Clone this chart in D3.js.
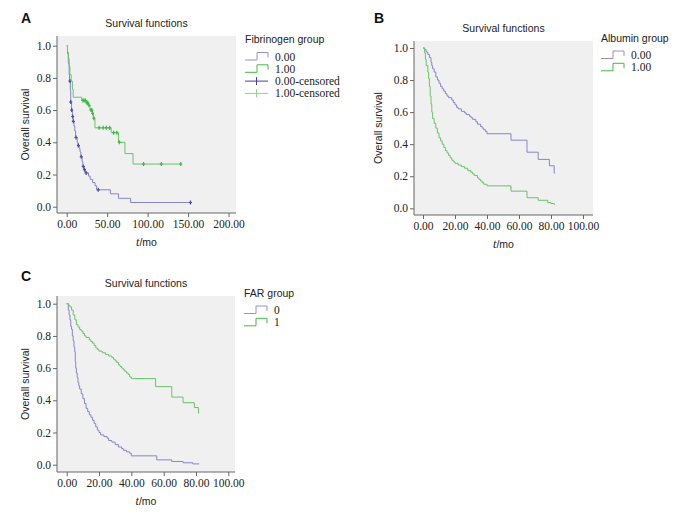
<!DOCTYPE html>
<html><head><meta charset="utf-8">
<script src="https://cdn.jsdelivr.net/npm/d3@7"></script>
<style>
html,body{margin:0;padding:0;background:#fff;}
svg{display:block;}
</style>
</head><body>
<svg id="c" width="686" height="517"></svg>
<script>
// ---------- DATA ----------
// Panel A: Fibrinogen group, [time (mo), survival after step]
const fibGroup0 = [[0,1],[1,0.95],[2,0.89],[3,0.82],[3.5,0.78],[4.5,0.72],[5,0.65],[6,0.60],[7,0.56],[8,0.53],[9,0.50],[10,0.47],[11,0.43],[13,0.40],[14,0.38],[15.5,0.36],[16.5,0.34],[17.5,0.31],[19,0.28],[20,0.25],[21.5,0.23],[23,0.21],[27,0.19],[29,0.17],[32,0.15],[35,0.13],[37,0.105],[54,0.08],[64,0.052],[79,0.026],[153,0.026]];
const fibGroup0Censored = [4,5,6.2,7.4,8.2,11.5,14.4,18,20.5,22,24,39,153];
const fibGroup1 = [[0,1],[1,0.96],[2,0.92],[3,0.87],[4,0.82],[5.5,0.78],[7,0.73],[8,0.68],[18.5,0.66],[24.5,0.645],[26.7,0.63],[28.8,0.60],[31.5,0.58],[33,0.55],[34.9,0.49],[55,0.46],[64,0.40],[72,0.33],[82,0.265],[141,0.265]];
const fibGroup1Censored = [20,21.5,23,25,26,27.5,30,31,32,33.5,40,45,49,53,58,62,65,95,117,141];
// Panel B: Albumin group
const albGroup0 = [[0,1],[1,0.99],[2,0.975],[3,0.96],[4,0.94],[5,0.91],[5.5,0.89],[6,0.87],[7,0.85],[8,0.82],[9,0.80],[10,0.78],[11,0.76],[12,0.745],[13,0.73],[14,0.715],[15,0.70],[16,0.69],[18,0.675],[19,0.66],[20,0.645],[21,0.63],[22,0.62],[24,0.605],[26,0.595],[27,0.585],[29,0.575],[30,0.565],[31,0.555],[33,0.54],[34,0.525],[36,0.51],[37,0.50],[38,0.49],[39,0.48],[40,0.465],[55,0.425],[65,0.35],[72,0.305],[79,0.265],[82,0.22],[82.5,0.22]];
const albGroup1 = [[0,1],[1,0.97],[1.5,0.93],[2,0.89],[3,0.85],[3.5,0.81],[4,0.76],[4.5,0.70],[5,0.65],[5.5,0.60],[6,0.56],[7,0.53],[8,0.50],[9,0.47],[10,0.44],[11,0.42],[12,0.40],[13,0.38],[14,0.36],[15,0.345],[16,0.33],[17,0.315],[18,0.30],[19,0.29],[20,0.28],[22,0.27],[24,0.26],[26,0.25],[28,0.235],[30,0.225],[31,0.215],[32,0.205],[34,0.19],[35,0.18],[36,0.17],[37,0.16],[38,0.15],[40,0.14],[55,0.107],[65,0.066],[72,0.05],[78,0.035],[80,0.03],[82,0.025],[82.5,0.025]];
// Panel C: FAR group
const farGroup0 = [[0,1],[1,0.96],[1.5,0.93],[2,0.90],[2.5,0.86],[3,0.84],[3.5,0.80],[4,0.77],[4.5,0.73],[5,0.70],[5.3,0.64],[5.6,0.60],[6,0.57],[6.5,0.54],[7,0.51],[7.5,0.49],[8,0.47],[9,0.44],[10,0.41],[11,0.38],[12,0.35],[13,0.33],[14,0.31],[15,0.295],[16,0.275],[17,0.255],[18,0.235],[19,0.215],[20,0.20],[21,0.185],[23,0.175],[25,0.165],[26,0.15],[28,0.14],[30,0.125],[32,0.11],[34,0.10],[35,0.09],[37,0.08],[39,0.07],[40,0.055],[55.7,0.03],[65,0.02],[72,0.012],[78,0.005],[82,0.005]];
const farGroup1 = [[0,1],[1,0.99],[2,0.98],[3,0.96],[4,0.93],[5,0.90],[6,0.87],[7,0.855],[8,0.84],[9,0.83],[10,0.815],[11,0.80],[12,0.79],[14,0.775],[15,0.765],[16,0.755],[17,0.74],[18,0.725],[19,0.715],[20,0.705],[22,0.695],[24,0.685],[26,0.675],[28,0.665],[29,0.655],[30,0.645],[31,0.635],[32,0.62],[33,0.61],[34,0.60],[35,0.59],[36,0.58],[37,0.57],[38,0.56],[39,0.545],[40,0.535],[55,0.485],[65,0.42],[72,0.385],[79,0.355],[81.5,0.32],[82,0.32]];
// Tick values
const yTicks = [0,0.2,0.4,0.6,0.8,1.0];
const xTicksA = [0,50,100,150,200];
const xTicksBC = [0,20,40,60,80,100];
const legendA = ["0.00","1.00","0.00-censored","1.00-censored"];
const legendB = ["0.00","1.00"];
const legendC = ["0","1"];

// ---------- STYLE ----------
const COL = {
  blue:"#8585cf", green:"#66c666",
  blueCens:"#4a48a6", greenCens:"#3fb83f",
  legBlue:"#9a8cd6", legGreen:"#45b845",
  legBlueCens:"#4b3c9b", legGreenCens:"#88d888",
  bg:"#f0f0f0", axis:"#666", text:"#222"
};
const SANS = "'Liberation Sans', Arial, sans-serif";
const SERIF = "'Liberation Serif', 'Times New Roman', serif";

const svg = d3.select("#c");

function stepValue(series, t){
  let v = series[0][1];
  for (const p of series){ if (p[0] <= t) v = p[1]; }
  return v;
}

function drawPanel(cfg){
  const g = svg.append("g");
  const x = d3.scaleLinear().domain([0, cfg.xMax]).range([cfg.xPx0, cfg.xPx1]);
  const y = d3.scaleLinear().domain([0, 1]).range([cfg.yPx0, cfg.yPx1]);
  const b = cfg.box;

  g.append("rect").attr("x", b.l).attr("y", b.t).attr("width", b.r - b.l).attr("height", b.b - b.t).attr("fill", COL.bg);

  // y axis
  const ya = g.append("g").attr("transform", `translate(${b.l},0)`)
    .call(d3.axisLeft(y).tickValues(yTicks).tickFormat(d3.format(".1f")).tickSize(4).tickPadding(2));
  ya.select(".domain").remove();
  ya.selectAll("line").attr("stroke", COL.axis);
  ya.selectAll("text").attr("font-family", SERIF).attr("font-size", 11.5).attr("fill", COL.text);

  // x axis
  const xa = g.append("g").attr("transform", `translate(0,${b.b})`)
    .call(d3.axisBottom(x).tickValues(cfg.xTicks).tickFormat(d3.format(".2f")).tickSize(4).tickPadding(3));
  xa.select(".domain").remove();
  xa.selectAll("line").attr("stroke", COL.axis);
  xa.selectAll("text").attr("font-family", SERIF).attr("font-size", 11.5).attr("fill", COL.text);

  g.append("line").attr("x1", b.l).attr("x2", b.l).attr("y1", b.t).attr("y2", b.b).attr("stroke", COL.axis);
  g.append("line").attr("x1", b.l).attr("x2", b.r).attr("y1", b.b).attr("y2", b.b).attr("stroke", COL.axis);

  const line = d3.line().x(d => x(d[0])).y(d => y(d[1])).curve(d3.curveStepAfter);
  cfg.series.forEach(s => {
    g.append("path").datum(s.data).attr("d", line).attr("fill", "none")
      .attr("stroke", s.color).attr("stroke-width", 1);
    if (s.censored){
      const cg = g.selectAll(null).data(s.censored).enter().append("g")
        .attr("transform", d => `translate(${x(d)},${y(stepValue(s.data, d))})`);
      cg.append("line").attr("x1", 0).attr("x2", 0).attr("y1", -2).attr("y2", 2)
        .attr("stroke", s.censColor).attr("stroke-width", 1.2);
      cg.append("line").attr("x1", -1.5).attr("x2", 1.5).attr("y1", 0).attr("y2", 0)
        .attr("stroke", s.censColor).attr("stroke-width", 1.2);
    }
  });

  // titles
  g.append("text").attr("x", cfg.letter.x).attr("y", cfg.letter.y).text(cfg.letter.t)
    .attr("font-family", SANS).attr("font-weight", "bold").attr("font-size", 14).attr("fill", "#111");
  g.append("text").attr("x", (b.l + b.r) / 2).attr("y", b.t - 9).attr("text-anchor", "middle")
    .text("Survival functions").attr("font-family", SANS).attr("font-size", 10.5).attr("fill", COL.text);
  g.append("text").attr("transform", `translate(${cfg.yLabX},${(b.t + b.b) / 2}) rotate(-90)`)
    .attr("text-anchor", "middle").text("Overall survival")
    .attr("font-family", SANS).attr("font-size", 10.5).attr("fill", COL.text);
  const xl = g.append("text").attr("x", (b.l + b.r) / 2).attr("y", b.b + 33).attr("text-anchor", "middle")
    .attr("font-family", SANS).attr("font-size", 10.5).attr("fill", COL.text);
  xl.append("tspan").text("t").attr("font-style", "italic").attr("font-family", SERIF).attr("font-size", 12);
  xl.append("tspan").text("/mo");

  // legend
  const L = cfg.legend;
  g.append("text").attr("x", L.x).attr("y", L.y).text(L.title)
    .attr("font-family", SANS).attr("font-size", 10.5).attr("fill", COL.text);
  L.items.forEach((it, i) => {
    const cy = L.y + 13.5 + i * 12.3;
    if (it.type === "step"){
      g.append("path").attr("d", `M${L.x},${cy + 3.5}H${L.x + 12}V${cy - 4}H${L.x + 23}V${cy + 1}`)
        .attr("fill", "none").attr("stroke", it.color).attr("stroke-width", 1);
    } else {
      g.append("line").attr("x1", L.x).attr("x2", L.x + 23).attr("y1", cy).attr("y2", cy)
        .attr("stroke", it.color).attr("stroke-width", 1);
      g.append("line").attr("x1", L.x + 11.5).attr("x2", L.x + 11.5).attr("y1", cy - 4).attr("y2", cy + 4)
        .attr("stroke", it.color).attr("stroke-width", 1);
    }
    g.append("text").attr("x", L.x + 30).attr("y", cy + 4).text(it.label)
      .attr("font-family", SERIF).attr("font-size", 11.5).attr("fill", COL.text);
  });
}

drawPanel({
  xMax: 200, xPx0: 66.7, xPx1: 228.5, yPx0: 206.7, yPx1: 45.7,
  box: {l: 57, r: 236, t: 36, b: 213},
  xTicks: xTicksA, yLabX: 29,
  letter: {t: "A", x: 21, y: 23},
  series: [
    {data: fibGroup0, color: COL.blue, censored: fibGroup0Censored, censColor: COL.blueCens},
    {data: fibGroup1, color: COL.green, censored: fibGroup1Censored, censColor: COL.greenCens}
  ],
  legend: {x: 245, y: 43, title: "Fibrinogen group", items: [
    {type: "step", color: COL.legBlue, label: legendA[0]},
    {type: "step", color: COL.legGreen, label: legendA[1]},
    {type: "cens", color: COL.legBlueCens, label: legendA[2]},
    {type: "cens", color: COL.legGreenCens, label: legendA[3]}
  ]}
});

drawPanel({
  xMax: 100, xPx0: 423, xPx1: 583, yPx0: 208.3, yPx1: 48,
  box: {l: 414, r: 593, t: 41, b: 215},
  xTicks: xTicksBC, yLabX: 382,
  letter: {t: "B", x: 374, y: 23},
  series: [
    {data: albGroup0, color: COL.blue},
    {data: albGroup1, color: COL.green}
  ],
  legend: {x: 601, y: 41.5, title: "Albumin group", items: [
    {type: "step", color: COL.legBlue, label: legendB[0]},
    {type: "step", color: COL.legGreen, label: legendB[1]}
  ]}
});

drawPanel({
  xMax: 100, xPx0: 66.7, xPx1: 228.3, yPx0: 464.7, yPx1: 303.7,
  box: {l: 57, r: 235, t: 296, b: 472},
  xTicks: xTicksBC, yLabX: 29,
  letter: {t: "C", x: 21, y: 281},
  series: [
    {data: farGroup0, color: COL.blue},
    {data: farGroup1, color: COL.green}
  ],
  legend: {x: 244, y: 296.5, title: "FAR group", items: [
    {type: "step", color: COL.legBlue, label: legendC[0]},
    {type: "step", color: COL.legGreen, label: legendC[1]}
  ]}
});
</script>
</body></html>
